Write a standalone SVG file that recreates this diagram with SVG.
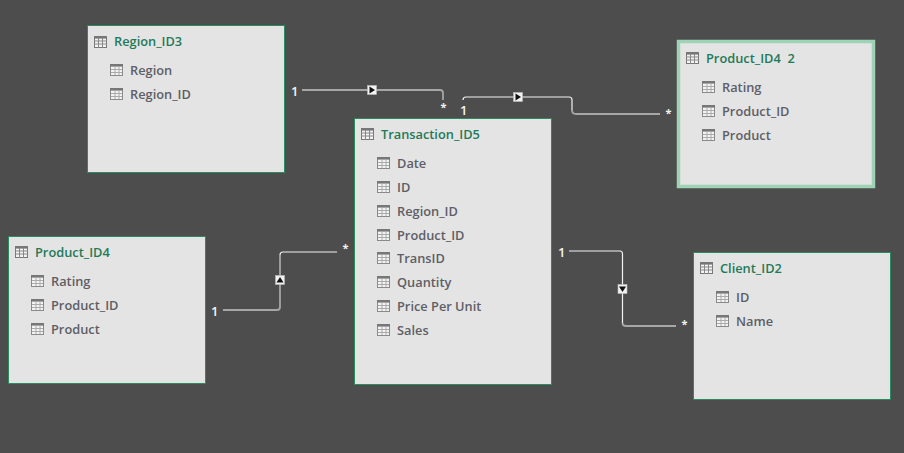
<svg xmlns="http://www.w3.org/2000/svg" width="904" height="453" viewBox="0 0 904 453">
<style>
.bg{fill:#4d4d4d}
.box{fill:#e4e4e4;stroke:#2a8a60;stroke-width:1}
.sel{fill:#e4e4e4;stroke:#9fd3b5;stroke-width:3.5}
.t{font:600 12.8px "Open Sans","Noto Sans",sans-serif;fill:#1f7a58;white-space:pre}
.f{font:600 12.8px "Open Sans","Noto Sans",sans-serif;fill:#5e5e66}
.c{font:600 13px "Open Sans","Noto Sans",sans-serif;fill:#f4f4f4}
.s{font:700 11px "Open Sans","Noto Sans",sans-serif;fill:#f4f4f4}
.w{fill:none;stroke:#f2f2f2;stroke-width:1.2}
.g{fill:none;stroke:#a6a6a6;stroke-width:1.8}
.mk{fill:#f2f2f2;stroke:#bdbdbd;stroke-width:.6}
.ar{fill:#111}
</style>
<defs>
<g id="ti">
<rect x=".5" y=".5" width="12" height="11" fill="#f3f3f3" stroke="#777"/>
<rect x="0" y="0" width="13" height="2.6" fill="#777"/>
<path d="M0 5H13M0 8H13M4.500 2V12M8.500 2V12" stroke="#888" stroke-width="1" fill="none"/>
</g>
<g id="fi">
<rect x=".5" y=".5" width="12" height="11" fill="#f3f3f3" stroke="#8a8a8a"/>
<rect x="0" y="0" width="13" height="2.6" fill="#777"/>
<path d="M1 5.500H12M1 8.500H12M5 3V11M9 3V11" stroke="#aaa" stroke-width="1" fill="none"/>
</g>
<g id="mr"><rect class="mk" x="-4.500" y="-4.500" width="9" height="9"/><path class="ar" d="M-2.500 -3.500L3 0L-2.500 3.500Z"/></g>
<g id="mu"><rect class="mk" x="-4.500" y="-4.500" width="9" height="9"/><path class="ar" d="M-3.500 2.500L0 -3L3.500 2.500Z"/></g>
<g id="md"><rect class="mk" x="-4.500" y="-4.500" width="9" height="9"/><path class="ar" d="M-3.500 -2.500L0 3L3.500 -2.500Z"/></g>
</defs>
<rect class="bg" width="904" height="453"/>
<g id="connectors">
<path class="g" d="M302 90H440Q443 90 443 93V100"/>
<path class="w" d="M463 100Q463 97 466 97H569Q572 97 572 100V110"/>
<path class="g" d="M572 110Q572 114 576 114H660"/>
<path class="g" d="M223 310H277Q280 310 280 307V280"/>
<path class="g" d="M280 280V255"/>
<path class="w" d="M280 255Q280 252 283 252H337"/>
<path class="w" d="M569 251H620Q622.500 251 622.500 254V323"/>
<path class="g" d="M622.500 323Q622.500 326 626 326H676"/>
<use href="#mr" x="372" y="90"/>
<use href="#mr" x="518" y="97"/>
<use href="#mu" x="280" y="280"/>
<use href="#md" x="622.500" y="289"/>
<text class="c" x="291" y="96">1</text>
<text class="s" x="440.500" y="111">*</text>
<text class="c" x="460" y="115">1</text>
<text class="s" x="665.500" y="117">*</text>
<text class="c" x="211" y="316">1</text>
<text class="s" x="342.500" y="252">*</text>
<text class="c" x="558" y="257">1</text>
<text class="s" x="681.500" y="328">*</text>
</g>
<g id="region-id3">
<rect class="box" x="87.500" y="25.500" width="197" height="147"/>
<use href="#ti" x="94" y="36"/>
<text class="t" x="114" y="46">Region_ID3</text>
<use href="#fi" x="110" y="64"/><text class="f" x="130" y="75">Region</text>
<use href="#fi" x="110" y="88"/><text class="f" x="130" y="99">Region_ID</text>
</g>
<g id="product-id4-2">
<rect class="sel" x="678.500" y="41.500" width="195" height="145"/>
<use href="#ti" x="686" y="52"/>
<text class="t" x="706" y="63">Product_ID4  2</text>
<use href="#fi" x="702" y="81"/><text class="f" x="722" y="92">Rating</text>
<use href="#fi" x="702" y="105"/><text class="f" x="722" y="116">Product_ID</text>
<use href="#fi" x="702" y="129"/><text class="f" x="722" y="140">Product</text>
</g>
<g id="transaction-id5">
<rect class="box" x="354.500" y="118.500" width="197" height="266"/>
<use href="#ti" x="361" y="128"/>
<text class="t" x="381" y="139">Transaction_ID5</text>
<use href="#fi" x="377" y="157"/><text class="f" x="397" y="168">Date</text>
<use href="#fi" x="377" y="181"/><text class="f" x="397" y="192">ID</text>
<use href="#fi" x="377" y="205"/><text class="f" x="397" y="216">Region_ID</text>
<use href="#fi" x="377" y="229"/><text class="f" x="397" y="240">Product_ID</text>
<use href="#fi" x="377" y="252"/><text class="f" x="397" y="263">TransID</text>
<use href="#fi" x="377" y="276"/><text class="f" x="397" y="287">Quantity</text>
<use href="#fi" x="377" y="300"/><text class="f" x="397" y="311">Price Per Unit</text>
<use href="#fi" x="377" y="324"/><text class="f" x="397" y="335">Sales</text>
</g>
<g id="product-id4">
<rect class="box" x="8.500" y="236.500" width="197" height="147"/>
<use href="#ti" x="15" y="246"/>
<text class="t" x="35" y="257">Product_ID4</text>
<use href="#fi" x="31" y="275"/><text class="f" x="51" y="286">Rating</text>
<use href="#fi" x="31" y="299"/><text class="f" x="51" y="310">Product_ID</text>
<use href="#fi" x="31" y="323"/><text class="f" x="51" y="334">Product</text>
</g>
<g id="client-id2">
<rect class="box" x="693.500" y="252.500" width="197" height="147"/>
<use href="#ti" x="700" y="262"/>
<text class="t" x="720" y="273">Client_ID2</text>
<use href="#fi" x="716" y="291"/><text class="f" x="736" y="302">ID</text>
<use href="#fi" x="716" y="315"/><text class="f" x="736" y="326">Name</text>
</g>
</svg>
